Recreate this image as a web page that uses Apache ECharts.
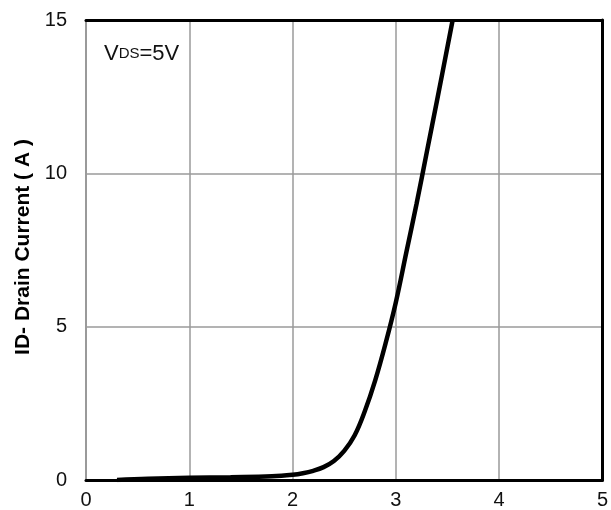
<!DOCTYPE html>
<html>
<head>
<meta charset="utf-8">
<script src="https://cdn.jsdelivr.net/npm/echarts@6/dist/echarts.min.js"></script>
<style>
  html, body { margin: 0; padding: 0; background: #fff; }
  #chart { width: 611px; height: 510px; }
</style>
</head>
<body>
<div id="chart"></div>
<script>
// Transfer characteristic: drain current vs gate-source voltage at VDS = 5 V
const vgs = [0.3, 0.6, 1.0, 1.4, 1.8, 2.0, 2.1, 2.2, 2.3, 2.4, 2.5, 2.6, 2.7, 2.8, 2.9, 3.0, 3.1, 3.2, 3.3, 3.4, 3.55];
const drainCurrent = [0.0, 0.04, 0.07, 0.09, 0.12, 0.17, 0.22, 0.3, 0.42, 0.62, 0.95, 1.45, 2.25, 3.25, 4.45, 5.8, 7.4, 9.0, 10.7, 12.4, 15.0];
const xTicks = [0, 1, 2, 3, 4, 5];
const yTicks = [0, 5, 10, 15];

const chart = echarts.init(document.getElementById('chart'), null, { renderer: 'canvas' });
const font = 'Liberation Sans, Arial, sans-serif';
const grey = '#9a9a9a';

// frame-only axes for the black top and right borders
const frameAxis = (position, max) => ({
  type: 'value', position, min: 0, max,
  axisLine: { show: true, onZero: false, lineStyle: { color: '#000', width: 3 } },
  axisTick: { show: false }, axisLabel: { show: false }, splitLine: { show: false }
});

chart.setOption({
  animation: false,
  backgroundColor: '#fff',
  grid: { left: 86, right: 3, top: 20, bottom: 28, containLabel: false },
  xAxis: [{
    type: 'value', min: xTicks[0], max: xTicks[xTicks.length - 1], interval: 1,
    axisLine: { show: true, onZero: false, lineStyle: { color: '#000', width: 3 } },
    axisTick: { show: false },
    axisLabel: { color: '#111', fontSize: 20, fontFamily: font, margin: 10 },
    splitLine: { show: true, lineStyle: { color: grey, width: 1.5 } }
  }, frameAxis('top', 5)],
  yAxis: [{
    type: 'value', min: yTicks[0], max: yTicks[yTicks.length - 1], interval: 5,
    name: 'ID- Drain Current ( A )',
    nameLocation: 'middle', nameGap: 52,
    nameTextStyle: { color: '#000', fontSize: 21, fontWeight: 'bold', fontFamily: font, padding: [0, 0, 0, 6] },
    axisLine: { show: true, onZero: false, lineStyle: { color: grey, width: 2 } },
    axisTick: { show: false },
    axisLabel: { color: '#111', fontSize: 20, fontFamily: font, margin: 19 },
    splitLine: { show: true, lineStyle: { color: grey, width: 1.5 } }
  }, frameAxis('right', 15)],
  graphic: [{
    type: 'text', left: 104, top: 43,
    style: {
      text: '{v|V}{s|DS}{v|=5V}',
      rich: {
        v: { fontSize: 22, fontFamily: font, fill: '#111' },
        s: { fontSize: 15, fontFamily: font, fill: '#111' }
      }
    }
  }],
  series: [{
    type: 'line',
    data: vgs.map((v, i) => [v, drainCurrent[i]]),
    smooth: 0.4,
    showSymbol: false,
    clip: true,
    lineStyle: { color: '#000', width: 4.5 }
  }]
});
</script>
</body>
</html>
